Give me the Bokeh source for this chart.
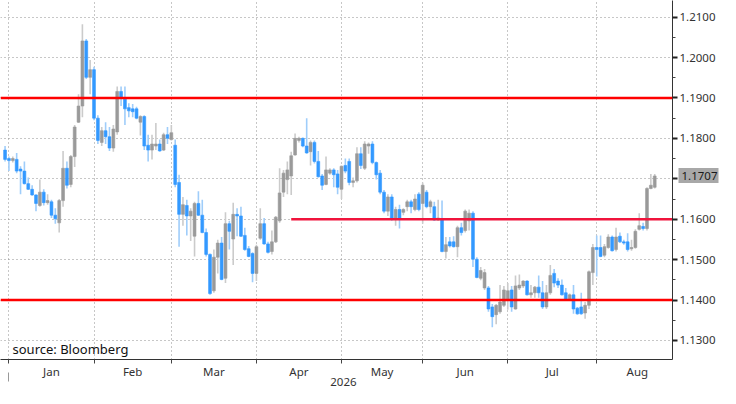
from bokeh.plotting import figure
from bokeh.models import (Range1d, LinearAxis, FixedTicker, Grid, Span, Label,
                          NumeralTickFormatter, ColumnDataSource)
from bokeh.embed import file_html
from bokeh.resources import INLINE

# ---------------- data (daily OHLC, trading-day index) ----------------
opens = [
    1.1771, 1.1750, 1.1745, 1.1748, 1.1724, 1.1719, 1.1688, 1.1674, 1.1660, 1.1634,
    1.1667, 1.1641, 1.1643, 1.1610, 1.1591, 1.1646, 1.1726, 1.1686, 1.1755, 1.1840,
    1.1880, 1.2041, 1.1951, 1.1970, 1.1850, 1.1790, 1.1819, 1.1804, 1.1776, 1.1816,
    1.1916, 1.1897, 1.1876, 1.1873, 1.1873, 1.1840, 1.1854, 1.1783, 1.1771, 1.1781,
    1.1786, 1.1771, 1.1809, 1.1797, 1.1783, 1.1691, 1.1612, 1.1634, 1.1608, 1.1558,
    1.1639, 1.1610, 1.1567, 1.1513, 1.1423, 1.1506, 1.1541, 1.1454, 1.1589, 1.1551,
    1.1612, 1.1608, 1.1560, 1.1527, 1.1515, 1.1466, 1.1553, 1.1589, 1.1539, 1.1520,
    1.1544, 1.1596, 1.1667, 1.1698, 1.1707, 1.1759, 1.1795, 1.1800, 1.1781, 1.1767,
    1.1790, 1.1743, 1.1707, 1.1686, 1.1714, 1.1722, 1.1712, 1.1674, 1.1733, 1.1743,
    1.1691, 1.1695, 1.1762, 1.1726, 1.1781, 1.1786, 1.1740, 1.1714, 1.1667, 1.1620,
    1.1655, 1.1603, 1.1624, 1.1617, 1.1631, 1.1643, 1.1624, 1.1662, 1.1639, 1.1667,
    1.1631, 1.1631, 1.1598, 1.1601, 1.1520, 1.1544, 1.1544, 1.1532, 1.1579, 1.1572,
    1.1596, 1.1615, 1.1501, 1.1454, 1.1430, 1.1430, 1.1383, 1.1364, 1.1371, 1.1387,
    1.1402, 1.1425, 1.1378, 1.1430, 1.1435, 1.1447, 1.1413, 1.1418, 1.1432, 1.1418,
    1.1383, 1.1418, 1.1466, 1.1447, 1.1437, 1.1418, 1.1402, 1.1413, 1.1380, 1.1383,
    1.1368, 1.1387, 1.1468, 1.1530, 1.1530, 1.1511, 1.1530, 1.1556, 1.1525, 1.1558,
    1.1544, 1.1544, 1.1527, 1.1530, 1.1575, 1.1582, 1.1577, 1.1676, 1.1679,
]
highs = [
    1.1781, 1.1755, 1.1755, 1.1764, 1.1731, 1.1743, 1.1703, 1.1684, 1.1662, 1.1698,
    1.1674, 1.1662, 1.1648, 1.1627, 1.1650, 1.1769, 1.1743, 1.1759, 1.1833, 1.1909,
    1.2082, 1.2046, 1.1994, 1.1977, 1.1857, 1.1828, 1.1840, 1.1828, 1.1833, 1.1928,
    1.1928, 1.1928, 1.1887, 1.1885, 1.1878, 1.1857, 1.1857, 1.1809, 1.1809, 1.1838,
    1.1797, 1.1814, 1.1828, 1.1833, 1.1797, 1.1710, 1.1655, 1.1648, 1.1627, 1.1643,
    1.1669, 1.1648, 1.1577, 1.1515, 1.1525, 1.1549, 1.1556, 1.1617, 1.1596, 1.1641,
    1.1627, 1.1631, 1.1579, 1.1534, 1.1518, 1.1537, 1.1627, 1.1603, 1.1544, 1.1572,
    1.1608, 1.1726, 1.1722, 1.1743, 1.1767, 1.1812, 1.1804, 1.1802, 1.1850, 1.1795,
    1.1795, 1.1769, 1.1712, 1.1755, 1.1726, 1.1726, 1.1722, 1.1733, 1.1750, 1.1750,
    1.1703, 1.1778, 1.1778, 1.1793, 1.1790, 1.1793, 1.1743, 1.1722, 1.1672, 1.1662,
    1.1662, 1.1631, 1.1636, 1.1627, 1.1648, 1.1648, 1.1662, 1.1667, 1.1691, 1.1672,
    1.1648, 1.1643, 1.1648, 1.1646, 1.1556, 1.1556, 1.1558, 1.1584, 1.1591, 1.1624,
    1.1624, 1.1620, 1.1506, 1.1482, 1.1477, 1.1435, 1.1390, 1.1390, 1.1437, 1.1435,
    1.1442, 1.1435, 1.1461, 1.1463, 1.1449, 1.1449, 1.1437, 1.1435, 1.1461, 1.1447,
    1.1437, 1.1487, 1.1477, 1.1454, 1.1451, 1.1430, 1.1416, 1.1437, 1.1383, 1.1418,
    1.1395, 1.1473, 1.1539, 1.1560, 1.1560, 1.1539, 1.1563, 1.1560, 1.1579, 1.1567,
    1.1549, 1.1565, 1.1549, 1.1575, 1.1615, 1.1591, 1.1679, 1.1712, 1.1712,
]
lows = [
    1.1743, 1.1719, 1.1740, 1.1714, 1.1662, 1.1686, 1.1672, 1.1658, 1.1620, 1.1631,
    1.1634, 1.1636, 1.1603, 1.1589, 1.1567, 1.1631, 1.1676, 1.1679, 1.1729, 1.1838,
    1.1852, 1.1947, 1.1909, 1.1845, 1.1786, 1.1781, 1.1786, 1.1769, 1.1767, 1.1809,
    1.1880, 1.1833, 1.1852, 1.1852, 1.1847, 1.1807, 1.1771, 1.1743, 1.1748, 1.1771,
    1.1767, 1.1769, 1.1786, 1.1795, 1.1679, 1.1532, 1.1584, 1.1560, 1.1546, 1.1508,
    1.1608, 1.1565, 1.1508, 1.1413, 1.1418, 1.1466, 1.1449, 1.1442, 1.1525, 1.1487,
    1.1558, 1.1556, 1.1522, 1.1506, 1.1444, 1.1447, 1.1549, 1.1537, 1.1515, 1.1513,
    1.1541, 1.1591, 1.1655, 1.1662, 1.1660, 1.1757, 1.1790, 1.1778, 1.1762, 1.1733,
    1.1738, 1.1703, 1.1672, 1.1684, 1.1710, 1.1679, 1.1662, 1.1650, 1.1714, 1.1684,
    1.1679, 1.1691, 1.1724, 1.1722, 1.1762, 1.1736, 1.1698, 1.1662, 1.1615, 1.1608,
    1.1596, 1.1584, 1.1577, 1.1610, 1.1620, 1.1615, 1.1620, 1.1620, 1.1589, 1.1627,
    1.1615, 1.1596, 1.1596, 1.1518, 1.1503, 1.1530, 1.1530, 1.1506, 1.1560, 1.1567,
    1.1572, 1.1482, 1.1454, 1.1449, 1.1425, 1.1371, 1.1333, 1.1340, 1.1366, 1.1383,
    1.1376, 1.1371, 1.1376, 1.1425, 1.1430, 1.1411, 1.1406, 1.1406, 1.1406, 1.1378,
    1.1378, 1.1413, 1.1432, 1.1430, 1.1411, 1.1399, 1.1399, 1.1366, 1.1364, 1.1364,
    1.1354, 1.1378, 1.1437, 1.1458, 1.1506, 1.1506, 1.1527, 1.1520, 1.1520, 1.1541,
    1.1537, 1.1520, 1.1522, 1.1527, 1.1572, 1.1572, 1.1572, 1.1674, 1.1676,
]
closes = [
    1.1748, 1.1745, 1.1750, 1.1719, 1.1719, 1.1688, 1.1674, 1.1660, 1.1639, 1.1667,
    1.1641, 1.1646, 1.1610, 1.1601, 1.1646, 1.1726, 1.1684, 1.1755, 1.1828, 1.1880,
    1.2041, 1.1951, 1.1970, 1.1850, 1.1795, 1.1819, 1.1804, 1.1776, 1.1823, 1.1916,
    1.1899, 1.1873, 1.1868, 1.1866, 1.1850, 1.1854, 1.1781, 1.1771, 1.1786, 1.1786,
    1.1769, 1.1809, 1.1800, 1.1814, 1.1686, 1.1612, 1.1636, 1.1608, 1.1620, 1.1639,
    1.1610, 1.1567, 1.1513, 1.1416, 1.1506, 1.1541, 1.1451, 1.1589, 1.1570, 1.1612,
    1.1608, 1.1558, 1.1525, 1.1508, 1.1466, 1.1532, 1.1589, 1.1539, 1.1518, 1.1544,
    1.1605, 1.1665, 1.1714, 1.1722, 1.1757, 1.1800, 1.1800, 1.1781, 1.1764, 1.1790,
    1.1743, 1.1705, 1.1684, 1.1722, 1.1722, 1.1710, 1.1679, 1.1731, 1.1719, 1.1691,
    1.1695, 1.1762, 1.1733, 1.1786, 1.1786, 1.1740, 1.1710, 1.1667, 1.1620, 1.1655,
    1.1603, 1.1624, 1.1601, 1.1624, 1.1643, 1.1631, 1.1650, 1.1624, 1.1684, 1.1631,
    1.1643, 1.1598, 1.1603, 1.1520, 1.1537, 1.1534, 1.1532, 1.1579, 1.1567, 1.1620,
    1.1615, 1.1501, 1.1456, 1.1473, 1.1468, 1.1378, 1.1359, 1.1387, 1.1395, 1.1425,
    1.1423, 1.1383, 1.1435, 1.1437, 1.1447, 1.1413, 1.1418, 1.1432, 1.1418, 1.1383,
    1.1418, 1.1461, 1.1442, 1.1437, 1.1413, 1.1402, 1.1413, 1.1378, 1.1366, 1.1366,
    1.1387, 1.1470, 1.1530, 1.1525, 1.1508, 1.1532, 1.1556, 1.1522, 1.1556, 1.1544,
    1.1541, 1.1525, 1.1530, 1.1570, 1.1584, 1.1577, 1.1676, 1.1684, 1.1707,
]

month_names = ["Jan", "Feb", "Mar", "Apr", "May", "Jun", "Jul", "Aug"]
month_start_idx = [1, 23, 43, 65, 87, 108, 130, 153]
month_end_idx = 174          # end of the (partial) last month slot
year_label = "2026"
year_start_idx = 1

price_ticks = [1.13, 1.14, 1.15, 1.16, 1.17, 1.18, 1.19, 1.20, 1.21]
level_values = [1.19, 1.16, 1.14]
level_start_idx = [None, 74, None]   # None = across the whole chart

source_text = "source: Bloomberg"

# ---------------- derived ----------------
n = len(closes)
idx = list(range(n))
up = [c >= o for o, c in zip(opens, closes)]
BODY_UP, WICK_UP = "#9a9a9a", "#cbcbcb"
BODY_DN, WICK_DN = "#3399ff", "#9fcdfa"
src = ColumnDataSource(dict(
    x=idx, high=highs, low=lows,
    top=[max(o, c) for o, c in zip(opens, closes)],
    bottom=[min(o, c) for o, c in zip(opens, closes)],
    body=[BODY_UP if u else BODY_DN for u in up],
    wick=[WICK_UP if u else WICK_DN for u in up],
))

X0, X1 = -1.18, 172.6
p = figure(width=720, height=388, output_backend="svg", toolbar_location=None,
           x_range=Range1d(X0, X1), y_range=Range1d(1.1253, 1.2141),
           x_axis_type=None, y_axis_type=None)
p.min_border_left = 0
p.min_border_top = 0
p.min_border_right = 0
p.min_border_bottom = 0
p.outline_line_color = None
p.background_fill_color = "white"
p.border_fill_color = "white"

FONT = "Noto Sans"
TXT = "#333333"
GRID = "#8f8f8f"
last_txt = f"{closes[-1]:.4f}"

# right price axis
minor_price = [price_ticks[0] - 0.005] + [t + 0.005 for t in price_ticks]
yax = LinearAxis(ticker=FixedTicker(ticks=price_ticks, minor_ticks=minor_price),
                 formatter=NumeralTickFormatter(format="0.0000"),
                 major_label_overrides={1.17: last_txt})
yax.axis_line_color = "#333333"
yax.major_tick_in = 0
yax.major_tick_out = 5
yax.major_tick_line_width = 2
yax.major_tick_line_color = "#222222"
yax.minor_tick_in = 0
yax.minor_tick_out = 3
yax.minor_tick_line_color = "#444444"
yax.major_label_text_font = FONT
yax.major_label_text_font_size = "11.5px"
yax.major_label_text_color = TXT
yax.major_label_standoff = 2
p.add_layout(yax, "right")

# last-price tag: an outer right axis whose thick minor tick reaches back over the
# price axis as a grey box, with its label pulled back inside the box
TAG_W = 40                 # px
tagax = LinearAxis(ticker=FixedTicker(ticks=[closes[-1]], minor_ticks=[closes[-1]]),
                   major_label_overrides={closes[-1]: last_txt})
tagax.axis_line_color = None
tagax.major_tick_in = 0
tagax.major_tick_out = 0
tagax.minor_tick_out = 0
tagax.minor_tick_in = TAG_W
tagax.minor_tick_line_width = 15
tagax.minor_tick_line_color = "#a8a8a8"
tagax.major_label_standoff = -TAG_W + 3
tagax.major_label_text_font = FONT
tagax.major_label_text_font_size = "11.5px"
tagax.major_label_text_color = "#1a1a1a"
p.add_layout(tagax, "right")

# month axis
month_mid = [(a + b) / 2 for a, b in zip(month_start_idx, month_start_idx[1:] + [month_end_idx])]
xax = LinearAxis(ticker=FixedTicker(ticks=month_mid, minor_ticks=month_start_idx),
                 major_label_overrides={m: name for m, name in zip(month_mid, month_names)})
xax.axis_line_color = "#333333"
xax.major_tick_in = 0
xax.major_tick_out = 0
xax.minor_tick_in = 0
xax.minor_tick_out = 4
xax.minor_tick_line_color = "#444444"
xax.major_label_text_font = FONT
xax.major_label_text_font_size = "11.5px"
xax.major_label_text_color = TXT
xax.major_label_standoff = 0
p.add_layout(xax, "below")

# year axis (separator tick drawn upwards, year name centred)
year_mid = (month_start_idx[0] + month_end_idx) / 2
yrax = LinearAxis(ticker=FixedTicker(ticks=[year_mid], minor_ticks=[year_start_idx]),
                  major_label_overrides={year_mid: year_label})
yrax.axis_line_color = None
yrax.major_tick_in = 0
yrax.major_tick_out = 0
yrax.minor_tick_out = 0
yrax.minor_tick_in = 9
yrax.minor_tick_line_color = "#999999"
yrax.major_label_text_font = FONT
yrax.major_label_text_font_size = "11.5px"
yrax.major_label_text_color = TXT
yrax.major_label_standoff = -4
p.add_layout(yrax, "below")

# dotted grids
p.add_layout(Grid(dimension=0, ticker=FixedTicker(ticks=month_start_idx),
                  grid_line_color=GRID, grid_line_dash="1 3", grid_line_width=1))
p.add_layout(Grid(dimension=1, ticker=FixedTicker(ticks=price_ticks),
                  grid_line_color=GRID, grid_line_dash="1 3", grid_line_width=1))

# candles
p.segment(x0="x", y0="low", x1="x", y1="high", line_color="wick", line_width=1.6, source=src)
p.vbar(x="x", width=0.74, top="top", bottom="bottom", fill_color="body",
       line_color="body", line_width=0.6, source=src)

# support / resistance levels
for lv, st in zip(level_values, level_start_idx):
    if st is None:
        p.add_layout(Span(location=lv, dimension="width", line_color="#ff0000", line_width=2.6))
    else:
        p.ray(x=[st], y=[lv], length=0, angle=0, line_color="#f0143c", line_width=2.6)

# source note
p.add_layout(Label(x=12, y=2, x_units="screen", y_units="screen", text=source_text,
                   text_font=FONT, text_font_size="13px", text_color="#111111"))

open("out.html", "w").write(file_html(p, INLINE))
